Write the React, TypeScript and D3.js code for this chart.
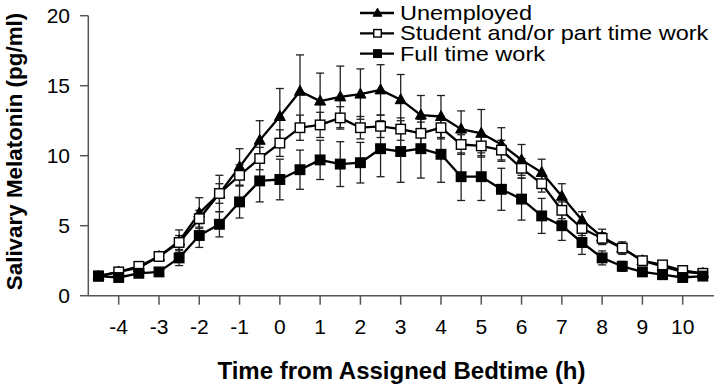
import React from "react";
import * as d3 from "d3";

const times = [-4.5, -4, -3.5, -3, -2.5, -2, -1.5, -1, -0.5, 0, 0.5, 1, 1.5, 2, 2.5, 3, 3.5, 4, 4.5, 5, 5.5, 6, 6.5, 7, 7.5, 8, 8.5, 9, 9.5, 10, 10.5];

const unemployed = [1.4, 1.7, 2.0, 2.8, 3.9, 5.9, 7.3, 9.2, 11.1, 12.8, 14.6, 13.9, 14.2, 14.4, 14.7, 14.0, 12.9, 12.8, 11.9, 11.6, 10.8, 9.7, 8.8, 7.1, 5.4, 4.2, 3.4, 2.5, 2.1, 1.7, 1.6];
const unemployedSE = [0.2, 0.2, 0.25, 0.3, 0.8, 1.1, 1.3, 1.3, 1.4, 2.0, 2.6, 2.0, 2.2, 1.8, 1.8, 1.8, 1.4, 1.5, 1.3, 1.7, 1.2, 1.1, 0.95, 0.9, 0.6, 0.55, 0.45, 0.3, 0.25, 0.2, 0.2];

const student = [1.4, 1.7, 2.1, 2.8, 3.8, 5.5, 7.3, 8.6, 9.8, 10.9, 12.0, 12.2, 12.7, 12.0, 12.1, 11.9, 11.6, 12.0, 10.8, 10.7, 10.4, 9.1, 8.0, 6.1, 4.8, 4.1, 3.4, 2.5, 2.2, 1.8, 1.6];
const studentSE = [0.2, 0.2, 0.25, 0.3, 0.5, 0.6, 0.7, 0.75, 0.8, 0.95, 0.9, 0.9, 0.8, 0.8, 0.8, 0.8, 0.8, 0.8, 0.7, 0.7, 0.7, 0.7, 0.6, 0.6, 0.5, 0.4, 0.35, 0.3, 0.25, 0.2, 0.2];

const fullTime = [1.4, 1.3, 1.6, 1.7, 2.7, 4.3, 5.1, 6.7, 8.2, 8.3, 9.0, 9.7, 9.4, 9.5, 10.5, 10.3, 10.5, 10.1, 8.5, 8.5, 7.6, 6.9, 5.7, 5.0, 3.8, 2.7, 2.1, 1.7, 1.5, 1.3, 1.4];
const fullTimeSE = [0.15, 0.15, 0.2, 0.25, 0.55, 0.85, 0.9, 1.15, 1.5, 1.45, 1.4, 1.4, 1.6, 1.45, 2.0, 2.2, 2.1, 2.0, 1.7, 1.7, 1.5, 1.5, 1.25, 1.05, 0.85, 0.5, 0.35, 0.25, 0.2, 0.2, 0.2];

const xTicks = [-4, -3, -2, -1, 0, 1, 2, 3, 4, 5, 6, 7, 8, 9, 10];
const yTicks = [0, 5, 10, 15, 20];

const seriesNames = ["Unemployed", "Student and/or part time work", "Full time work"];

type Marker = "triangle" | "squareOpen" | "squareFilled";

const series: { name: string; values: number[]; se: number[]; marker: Marker }[] = [
  { name: seriesNames[0], values: unemployed, se: unemployedSE, marker: "triangle" },
  { name: seriesNames[1], values: student, se: studentSE, marker: "squareOpen" },
  { name: seriesNames[2], values: fullTime, se: fullTimeSE, marker: "squareFilled" },
];

const FONT = "'Liberation Sans', Arial, Helvetica, sans-serif";
const AXIS = "#555";

function MarkerShape({ type, cx, cy, s }: { type: Marker; cx: number; cy: number; s: number }) {
  if (type === "triangle") {
    const w = s * 1.05;
    const h = s * 0.95;
    return (
      <path
        d={`M${cx},${cy - h * 0.6} L${cx + w / 2},${cy + h * 0.4} L${cx - w / 2},${cy + h * 0.4} Z`}
        fill="#000"
        stroke="#000"
        strokeWidth={1}
      />
    );
  }
  const half = s / 2;
  return (
    <rect
      x={cx - half}
      y={cy - half}
      width={s}
      height={s}
      fill={type === "squareOpen" ? "#fff" : "#000"}
      stroke="#000"
      strokeWidth={1.4}
    />
  );
}

export default function App() {
  const width = 720;
  const height = 387;
  const x = d3.scaleLinear().domain([-4, 10]).range([118.7, 682.7]);
  const y = d3.scaleLinear().domain([0, 20]).range([295.7, 15.7]);
  const xLeft = 88.3;
  const xRight = 714;
  const yBottom = y(0);

  const line = d3
    .line<number>()
    .x((_, i) => x(times[i]))
    .y((d) => y(d));

  const cap = 4;

  return (
    <svg
      width={width}
      height={height}
      style={{ position: "absolute", left: 0, top: 0, background: "#fff" }}
      fontFamily={FONT}
    >
      <rect x={0} y={0} width={width} height={height} fill="#fff" />
      {/* axes */}
      <line x1={xLeft} x2={xLeft} y1={y(20)} y2={yBottom} stroke={AXIS} strokeWidth={1.5} />
      <line x1={xLeft} x2={xRight} y1={yBottom} y2={yBottom} stroke={AXIS} strokeWidth={1.5} />
      {yTicks.map((t) => (
        <g key={"yt" + t}>
          <line x1={80} x2={xLeft} y1={y(t)} y2={y(t)} stroke={AXIS} strokeWidth={1.5} />
          <text x={70} y={y(t)} dy="0.36em" textAnchor="end" fontSize={21} fill="#000">
            {t}
          </text>
        </g>
      ))}
      {xTicks.map((t) => (
        <g key={"xt" + t}>
          <line x1={x(t)} x2={x(t)} y1={yBottom} y2={yBottom + 9} stroke={AXIS} strokeWidth={1.5} />
          <text x={x(t)} y={334} textAnchor="middle" fontSize={21} fill="#000">
            {t}
          </text>
        </g>
      ))}
      {/* titles */}
      <text
        transform={`translate(21.5, 151.5) rotate(-90)`}
        textAnchor="middle"
        fontSize={22.4}
        fontWeight="bold"
        fill="#000"
      >
        Salivary Melatonin (pg/ml)
      </text>
      <text x={401.5} y={379} textAnchor="middle" fontSize={24} fontWeight="bold" fill="#000">
        Time from Assigned Bedtime (h)
      </text>

      {/* error bars */}
      {series.map((s) => (
        <g key={"eb" + s.name} stroke="#222" strokeWidth={1.3}>
          {s.values.map((v, i) => {
            const cx = x(times[i]);
            const hi = y(v + s.se[i]);
            const lo = y(v - s.se[i]);
            return (
              <g key={i}>
                <line x1={cx} x2={cx} y1={hi} y2={lo} />
                <line x1={cx - cap} x2={cx + cap} y1={hi} y2={hi} />
                <line x1={cx - cap} x2={cx + cap} y1={lo} y2={lo} />
              </g>
            );
          })}
        </g>
      ))}

      {/* lines and markers */}
      {series.map((s) => (
        <g key={"ln" + s.name}>
          <path d={line(s.values) || ""} fill="none" stroke="#000" strokeWidth={2.3} strokeLinejoin="round" />
          {s.values.map((v, i) => (
            <MarkerShape key={i} type={s.marker} cx={x(times[i])} cy={y(v)} s={s.marker === "triangle" ? 10.5 : 9.5} />
          ))}
        </g>
      ))}

      {/* legend */}
      {series.map((s, i) => {
        const cy = 13 + i * 20.3;
        return (
          <g key={"lg" + s.name}>
            <line x1={360} x2={394} y1={cy} y2={cy} stroke="#000" strokeWidth={2.3} />
            <MarkerShape type={s.marker} cx={377.5} cy={cy} s={s.marker === "triangle" ? 8.5 : 7.5} />
            <text
              transform={`translate(400, ${cy + 7}) scale(1.12, 1)`}
              fontSize={21}
              fill="#000"
            >
              {s.name}
            </text>
          </g>
        );
      })}
    </svg>
  );
}
